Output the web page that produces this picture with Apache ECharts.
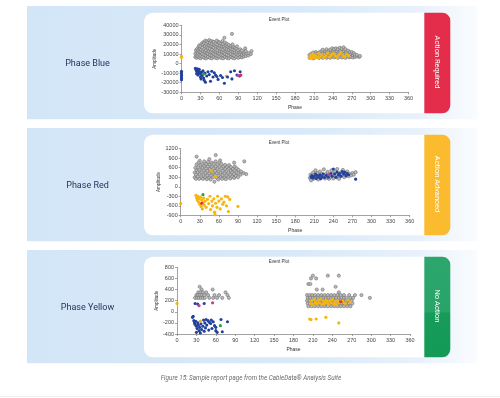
<!DOCTYPE html>
<html>
<head>
<meta charset="utf-8">
<title>Event Plot report</title>
<script src="https://cdn.jsdelivr.net/npm/echarts@6/dist/echarts.min.js"></script>
<style>
    html, body { margin: 0; padding: 0; background: #ffffff; }
    #chart { width: 500px; height: 398px; }
</style>
</head>
<body>
<div id="chart"></div>
<script>
// ---- data ----
const phaseTicks = [0, 30, 60, 90, 120, 150, 180, 210, 240, 270, 300, 330, 360];
const panelNames = ['Phase Blue', 'Phase Red', 'Phase Yellow'];
const statusNames = ['Action Required', 'Action Advanced', 'No Action'];
const ampRanges = [[-30000, 40000, 10000], [-900, 1200, 300], [-400, 800, 200]];

// Phase Blue
const blueGrayA = [
    [22, 7000], [22, 10500], [23, 14000], [24, 6000], [24, 8500], [25, 12000], [25, 15500],
    [26, 7500], [26, 11000], [27, 13500], [27, 17000], [28, 6500], [28, 9500], [29, 12500], [29, 16000], [28, 19000],
    [30, 5500], [30, 8000], [31, 11500], [31, 14500], [30, 18000], [32, 21000],
    [33, 7000], [33, 10000], [34, 13000], [33, 16500], [34, 20000], [35, 22500],
    [36, 6000], [36, 9000], [37, 12000], [36, 15000], [37, 18500], [36, 21500], [38, 24000],
    [39, 5500], [39, 8000], [40, 11000], [39, 14000], [40, 17000], [39, 20500], [40, 23000],
    [42, 7000], [42, 10000], [43, 13000], [42, 16000], [43, 19500], [42, 22000], [44, 24500],
    [45, 6000], [45, 9000], [46, 12000], [45, 15500], [46, 18500], [45, 21500], [47, 23500],
    [48, 5500], [48, 8500], [49, 11500], [48, 14500], [49, 17500], [48, 20500], [50, 23000],
    [51, 7000], [51, 10000], [52, 13500], [51, 16500], [52, 19500], [51, 22500],
    [54, 6000], [54, 9000], [55, 12000], [54, 15000], [55, 18000], [54, 21000], [56, 24000],
    [57, 5500], [57, 8000], [58, 11000], [57, 14000], [58, 17000], [57, 20000], [59, 22500],
    [60, 7000], [60, 10000], [61, 13000], [60, 16000], [61, 19000], [60, 22000],
    [63, 6000], [63, 9000], [64, 12000], [63, 15000], [64, 18000], [63, 21000], [65, 23500],
    [66, 5500], [66, 8500], [67, 11500], [66, 14500], [67, 17500], [66, 20500], [68, 27000],
    [69, 7000], [69, 10000], [70, 13000], [69, 16000], [70, 19000], [69, 22000],
    [72, 6000], [72, 9000], [73, 12000], [72, 15000], [73, 18000], [72, 20500],
    [75, 5500], [75, 8500], [76, 11500], [75, 14500], [76, 17000], [75, 19500],
    [78, 7000], [78, 10000], [79, 13000], [78, 16000], [79, 18500], [80, 31000],
    [81, 6000], [81, 9000], [82, 12000], [81, 15000], [82, 17500], [81, 20000],
    [84, 5500], [84, 8500], [85, 11500], [84, 14000], [85, 16500],
    [87, 7000], [87, 10000], [88, 12500], [87, 15500], [88, 18000],
    [90, 6000], [90, 9000], [91, 11500], [90, 14000],
    [93, 7000], [93, 10000], [94, 12500], [93, 15000],
    [96, 6500], [96, 9000], [97, 11500], [96, 13500],
    [99, 7500], [99, 10000], [100, 12000], [101, 16000],
    [102, 8000], [103, 10500], [102, 13000], [106, 8500], [106, 11000], [110, 10000], [111, 13000]
];
const blueGrayB = [
    [203, 6000], [203, 9000], [206, 7000], [206, 10500], [209, 5500], [209, 8500], [209, 11500],
    [212, 6500], [212, 9500], [213, 12000], [215, 7500], [215, 10500], [218, 6000], [218, 9000], [219, 12000],
    [221, 7000], [221, 10000], [222, 13000], [224, 6000], [224, 8500], [225, 11500], [224, 14500],
    [227, 7500], [227, 10500], [228, 13000], [230, 6000], [230, 9000], [231, 12000], [230, 15000],
    [233, 7000], [233, 10000], [234, 13500], [236, 6000], [236, 9000], [237, 12000], [236, 14500],
    [239, 7500], [239, 10500], [240, 13500], [239, 16000], [242, 6500], [242, 9500], [243, 12500], [242, 15000],
    [245, 7000], [245, 10000], [246, 13000], [245, 16000], [248, 6000], [248, 9000], [249, 12000], [248, 15000],
    [251, 7500], [251, 10500], [252, 13500], [251, 16500], [254, 6500], [254, 9500], [255, 12500], [254, 15500],
    [257, 7000], [257, 10000], [258, 13000], [257, 17000], [260, 6000], [260, 9000], [261, 12000], [260, 15000],
    [263, 7500], [263, 10500], [264, 13500], [266, 6500], [266, 9000], [267, 12000],
    [269, 7000], [269, 10000], [270, 12000], [272, 6500], [272, 9000], [273, 11000],
    [275, 7000], [275, 9500], [278, 7500], [278, 9000], [282, 7000], [283, 8000]
];
const blueYellow = [
    [0, 7500], [0, 6500], [71, -13000],
    [203, 6000], [205, 8000], [206, 5500], [208, 10000], [209, 7000], [211, 9000], [212, 6000],
    [214, 7500], [217, 6000], [218, 10500], [220, 7000], [223, 9000],
    [226, 6500], [229, 8500], [232, 11000], [235, 7000], [238, 9000], [241, 10500], [244, 8000],
    [247, 6500], [250, 9500], [253, 11500], [256, 8000], [259, 7000], [262, 10000], [265, 8500]
];
const blueBlue = [
    [0, -8000], [0, -9500], [0, -11000], [0, -12500], [0, -14000], [0, -15500], [0, -17000],
    [22, -5000], [23, -6500], [24, -8000], [25, -5500], [26, -7000], [27, -9500], [24, -10500], [26, -12000],
    [28, -6000], [29, -8500], [30, -11000], [30, -14000], [31, -16000], [32, -9000], [33, -12500], [34, -7500],
    [35, -15000], [36, -17500], [37, -10000], [38, -19500], [40, -13000], [42, -8500], [44, -11500], [46, -18500],
    [48, -8000], [50, -14000], [52, -9500], [54, -12000], [56, -13500], [58, -16500], [62, -12500], [65, -14500],
    [68, -20500], [73, -14000], [78, -8500], [80, -16000], [84, -7500], [88, -12000], [92, -13000], [93, -8500]
];
const blueMarks = [[35, -11000, '#2f9e44'], [94, -12000, '#e03030'], [90, -12500, '#c040a0']];

// Phase Red
const redGrayA = [
    [25, 950], [55, 1000], [30, 820], [45, 870], [62, 830], [100, 800], [84, 760],
    [22, 300], [22, 450], [23, 600], [24, 250], [24, 380], [25, 520], [25, 700],
    [27, 320], [27, 460], [28, 600], [28, 760], [29, 250], [30, 400], [30, 540], [31, 680],
    [33, 300], [33, 450], [34, 590], [34, 720], [35, 250], [36, 380], [36, 520], [37, 660], [37, 800],
    [39, 290], [39, 430], [40, 570], [40, 710], [41, 240], [42, 360], [42, 500], [43, 640], [43, 780],
    [45, 280], [45, 420], [46, 560], [46, 700], [47, 230], [48, 350], [48, 480], [49, 620], [49, 760],
    [51, 300], [51, 440], [52, 580], [52, 720], [53, 160], [54, 370], [54, 500], [55, 640], [55, 800],
    [57, 280], [57, 420], [58, 560], [58, 700], [59, 230], [60, 350], [60, 480], [61, 620], [61, 760],
    [63, 300], [63, 440], [64, 580], [64, 720], [65, 250], [66, 370], [66, 500], [67, 640],
    [69, 280], [69, 420], [70, 560], [70, 690], [71, 240], [72, 350], [72, 480], [73, 620],
    [75, 300], [75, 440], [76, 570], [76, 680], [78, 260], [78, 380], [79, 500], [79, 620],
    [81, 320], [81, 450], [82, 560], [84, 280], [84, 400], [85, 520], [85, 640],
    [87, 340], [88, 460], [88, 580], [90, 300], [91, 420], [91, 530], [94, 380], [95, 480], [99, 430], [103, 400]
];
const redGrayB = [
    [203, 280], [204, 380], [205, 200], [207, 330], [208, 450], [209, 250], [211, 390], [212, 520],
    [213, 300], [215, 430], [216, 230], [218, 350], [219, 480], [221, 280], [222, 410], [224, 320],
    [225, 550], [227, 260], [228, 400], [230, 330], [231, 470], [233, 250], [234, 380], [236, 300],
    [237, 520], [239, 420], [240, 260], [242, 350], [243, 480], [245, 300], [246, 560], [248, 400],
    [249, 250], [251, 330], [252, 460], [254, 380], [255, 530], [257, 300], [258, 420], [260, 350],
    [262, 480], [264, 330], [266, 400], [268, 360], [270, 430], [272, 380], [275, 460]
];
const redBlue = [
    [205, 300], [206, 350], [208, 280], [210, 330], [212, 400], [213, 260], [215, 350], [217, 300],
    [219, 380], [220, 250], [222, 320], [224, 400], [226, 290], [229, 360], [232, 300], [236, 420],
    [238, 330], [240, 560], [242, 400], [244, 300], [246, 460], [248, 370], [250, 420], [252, 330],
    [254, 480], [256, 400], [258, 460], [260, 350], [262, 420], [264, 380], [275, 240]
];
const redYellow = [
    [0, -530], [48, 500], [55, 330],
    [24, -270], [25, -350], [26, -420], [27, -300], [28, -480], [29, -380], [30, -550], [31, -330],
    [32, -620], [33, -420], [34, -700], [35, -500], [36, -360], [37, -580], [38, -460], [40, -650],
    [42, -400], [44, -530], [46, -300], [47, -720], [49, -450], [50, -600], [52, -380], [53, -800],
    [54, -880], [55, -520], [57, -650], [58, -300], [60, -450], [62, -700], [64, -380], [66, -550],
    [68, -480], [70, -300], [72, -600], [74, -320], [75, -780], [77, -400], [90, -620]
];
const redMarks = [[35, -250, '#2f9e44'], [33, -520, '#e03030'], [233, 380, '#c040a0']];

// Phase Yellow
const yellowGrayA = [
    [35, 450], [38, 400], [33, 350], [36, 350], [40, 350], [30, 300], [32, 300], [35, 300], [38, 300],
    [42, 300], [45, 350], [48, 300], [55, 400], [58, 300], [62, 250], [65, 300], [70, 250], [75, 350],
    [78, 300], [80, 250], [28, 250], [31, 250], [34, 250], [37, 250], [40, 250], [43, 250], [50, 250], [56, 250]
];
const yellowGrayB = [
    [210, 650], [207, 600], [215, 600], [233, 650], [250, 650], [245, 450], [203, 500], [206, 500],
    [216, 400], [225, 400], [250, 350], [285, 300], [298, 250], [275, 300], [266, 300],
    [201, 300], [205, 300], [209, 300], [213, 300], [218, 300], [223, 300], [228, 300], [233, 300], [238, 300], [243, 300], [248, 300], [253, 300], [258, 300],
    [202, 250], [206, 250], [210, 250], [214, 250], [218, 250], [222, 250], [226, 250], [230, 250], [234, 250], [238, 250], [242, 250], [246, 250], [250, 250], [254, 250], [258, 250], [262, 250], [268, 250], [272, 250],
    [201, 200], [205, 200], [209, 200], [213, 200], [217, 200], [221, 200], [225, 200], [229, 200], [233, 200], [237, 200], [241, 200], [245, 200], [249, 200], [253, 200], [257, 200], [261, 200], [265, 200], [270, 200],
    [202, 150], [206, 150], [210, 150], [214, 150], [218, 150], [222, 150], [226, 150], [230, 150], [234, 150], [238, 150], [242, 150], [246, 150], [250, 150], [254, 150], [258, 150], [262, 150], [266, 150], [271, 150],
    [203, 100], [208, 100], [213, 100], [218, 100], [223, 100], [228, 100], [233, 100], [238, 100], [243, 100], [248, 100], [253, 100], [258, 100], [263, 100], [268, 100]
];
const yellowBlue = [
    [28, 150], [32, 140], [42, 150],
    [24, -100], [25, -80], [26, -160], [27, -200], [28, -230], [29, -170], [30, -260], [30, -370], [31, -300],
    [32, -200], [33, -240], [34, -340], [35, -280], [36, -380], [37, -220], [38, -320], [40, -260], [41, -150],
    [42, -350], [43, -200], [44, -290], [45, -140], [46, -240], [48, -160], [49, -330], [50, -190], [52, -210],
    [53, -150], [54, -300], [56, -180], [58, -250], [60, -280], [60, -340], [62, -370], [68, -140], [70, -360], [78, -180]
];
const yellowYellow = [
    [0, 150], [36, -170],
    [206, 150], [208, 200], [210, 130], [212, 220], [214, 170], [216, 140], [218, 210], [220, 160],
    [222, 230], [224, 130], [226, 190], [228, 150], [230, 210], [232, 170], [234, 130], [236, 200],
    [238, 160], [240, 220], [242, 140], [244, 180], [246, 130], [248, 200], [250, 160], [256, 190],
    [260, 150], [264, 210], [268, 170],
    [205, -130], [207, -140], [215, -130], [230, -100], [250, -200]
];
const yellowMarks = [[34, 110, '#c040a0'], [55, 160, '#c040a0'], [67, -250, '#2f9e44'], [253, 180, '#e03030']];

// ---- layout ----
const panelTops = [6, 128, 250];
const cardOffset = 6.7;
const cardHeight = 100.6;
const tabColors = [
    '#e32d4a',
    '#fbbb2e',
    { type: 'linear', x: 0, y: 0, x2: 0, y2: 1, colorStops: [
        { offset: 0, color: '#2da66d' }, { offset: 0.55, color: '#28a469' },
        { offset: 0.56, color: '#169b59' }, { offset: 1, color: '#149a57' }] }
];
const grids = [
    { left: 181.5, top: 25.3, width: 227, height: 67 },
    { left: 180.7, top: 148.7, width: 229, height: 66.6 },
    { left: 177, top: 267.3, width: 233, height: 66.7 }
];
const panelSeries = [
    { gray: [blueGrayA, blueGrayB], yellow: blueYellow, blue: blueBlue, marks: blueMarks },
    { gray: [redGrayA, redGrayB], yellow: redYellow, blue: redBlue, marks: redMarks },
    { gray: [yellowGrayA, yellowGrayB], yellow: yellowYellow, blue: yellowBlue, marks: yellowMarks }
];

const axisColor = '#8a8a8a';
const labelFont = 'Liberation Sans, Arial, sans-serif';

function buildGraphic() {
    const els = [];
    panelTops.forEach((top, i) => {
        els.push({
            type: 'rect', z: 1,
            shape: { x: 27, y: top, width: 451, height: 113.3 },
            style: { fill: { type: 'linear', x: 0, y: 0, x2: 1, y2: 0, colorStops: [
                { offset: 0, color: '#d3e6f7' }, { offset: 0.6, color: '#d8e9f8' },
                { offset: 0.87, color: '#e8f1fb' }, { offset: 1, color: '#fafcfe' }] } }
        });
        els.push({
            type: 'rect', z: 2,
            shape: { x: 144, y: top + cardOffset, width: 290, height: cardHeight, r: [9, 0, 0, 9] },
            style: { fill: '#ffffff' }
        });
        els.push({
            type: 'rect', z: 3,
            shape: { x: 424.3, y: top + cardOffset, width: 26, height: cardHeight, r: [0, 8, 8, 0] },
            style: { fill: tabColors[i] }
        });
        els.push({
            type: 'text', z: 4,
            x: 437.3, y: top + cardOffset + cardHeight / 2 - 1, rotation: -Math.PI / 2,
            style: { text: statusNames[i], fill: '#ffffff', font: '7.5px Roboto, sans-serif', align: 'center', verticalAlign: 'middle' }
        });
        els.push({
            type: 'text', z: 4,
            x: 87.5, y: top + 58,
            style: { text: panelNames[i], fill: '#26335c', font: '9px Roboto, sans-serif', align: 'center', verticalAlign: 'middle' }
        });
        els.push({
            type: 'text', z: 4,
            x: 279, y: grids[i].top - 6,
            style: { text: 'Event Plot', fill: '#333333', font: '4.5px ' + labelFont, align: 'center', verticalAlign: 'middle' }
        });
    });
    els.push({
        type: 'text', z: 4, x: 251, y: 378,
        style: { text: 'Figure 15: Sample report page from the CableData\u00ae Analysis Suite', fill: '#6a6a6a',
            font: 'italic 6.3px Roboto, sans-serif', align: 'center', verticalAlign: 'middle' }
    });
    els.push({
        type: 'rect', z: 1, shape: { x: 0, y: 396, width: 500, height: 1 }, style: { fill: '#ececec' }
    });
    return els;
}

function buildAxes() {
    const xAxis = [];
    const yAxis = [];
    grids.forEach((g, i) => {
        xAxis.push({
            type: 'value', gridIndex: i, min: phaseTicks[0], max: phaseTicks[phaseTicks.length - 1], interval: 30, z: 10,
            name: 'Phase', nameLocation: 'middle', nameGap: 13,
            nameTextStyle: { fontSize: 5, color: '#333', fontFamily: labelFont },
            axisLine: { onZero: false, lineStyle: { color: axisColor, width: 0.8 } },
            axisTick: { length: 2, lineStyle: { color: axisColor, width: 0.8 } },
            axisLabel: { fontSize: 5.5, color: '#444', margin: 3, fontFamily: labelFont, formatter: v => String(v) },
            splitLine: { show: false }
        });
        yAxis.push({
            type: 'value', gridIndex: i, min: ampRanges[i][0], max: ampRanges[i][1], interval: ampRanges[i][2], z: 10,
            name: 'Amplitude', nameLocation: 'middle', nameGap: i === 0 ? 23 : 18,
            nameTextStyle: { fontSize: 4.5, color: '#333', fontFamily: labelFont },
            axisLine: { show: true, onZero: false, lineStyle: { color: axisColor, width: 0.8 } },
            axisTick: { show: true, length: 2, lineStyle: { color: axisColor, width: 0.8 } },
            axisLabel: { fontSize: 5.5, color: '#444', margin: 3, fontFamily: labelFont, formatter: v => String(v) },
            splitLine: { show: false }
        });
    });
    return { xAxis, yAxis };
}

function buildSeries() {
    const series = [];
    panelSeries.forEach((p, i) => {
        p.gray.forEach(data => {
            series.push({
                type: 'scatter', xAxisIndex: i, yAxisIndex: i, z: 20, data: data,
                symbolSize: 3.2,
                itemStyle: { color: '#b9b9b9', borderColor: '#707070', borderWidth: 0.6, opacity: 1 }
            });
        });
        series.push({
            type: 'scatter', xAxisIndex: i, yAxisIndex: i, z: 21, data: p.yellow,
            symbolSize: 3.2, itemStyle: { color: '#f6b50e', opacity: 1 }
        });
        series.push({
            type: 'scatter', xAxisIndex: i, yAxisIndex: i, z: 22, data: p.blue,
            symbolSize: 3.1, itemStyle: { color: '#22409c', opacity: 1 }
        });
        series.push({
            type: 'scatter', xAxisIndex: i, yAxisIndex: i, z: 23,
            data: p.marks.map(m => ({ value: [m[0], m[1]], itemStyle: { color: m[2] } })),
            symbolSize: 3.2, itemStyle: { opacity: 1 }
        });
    });
    return series;
}

const chart = echarts.init(document.getElementById('chart'), null, { renderer: 'canvas' });
const axes = buildAxes();
chart.setOption({
    animation: false,
    backgroundColor: '#ffffff',
    grid: grids.map(g => Object.assign({ containLabel: false }, g)),
    xAxis: axes.xAxis,
    yAxis: axes.yAxis,
    graphic: { elements: buildGraphic() },
    series: buildSeries()
});
</script>
</body>
</html>
